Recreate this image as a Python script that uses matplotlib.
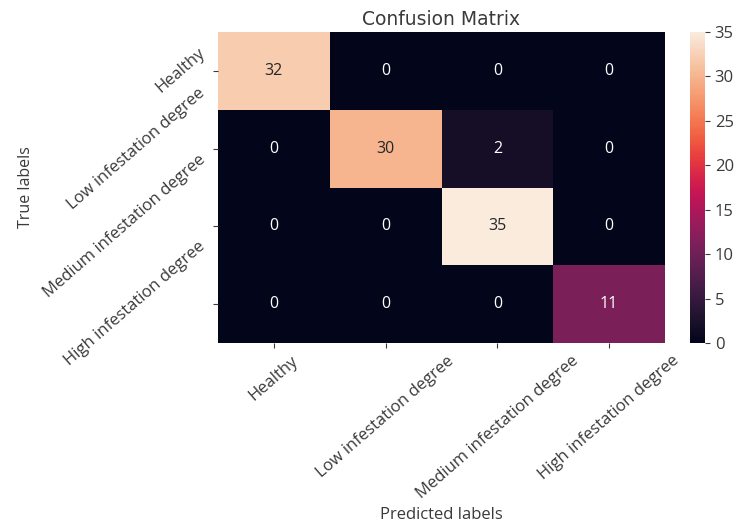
import matplotlib

matplotlib.use("Agg")
import matplotlib.pyplot as plt
import numpy as np
import seaborn as sns

classes = ["Healthy", "Low infestation degree", "Medium infestation degree", "High infestation degree"]
row_healthy = [32, 0, 0, 0]
row_low = [0, 30, 2, 0]
row_medium = [0, 0, 35, 0]
row_high = [0, 0, 0, 11]

plt.rcParams["font.family"] = ["Open Sans", "DejaVu Sans"]
text_col = "#3a3a3a"
plt.rcParams["text.color"] = text_col
plt.rcParams["axes.labelcolor"] = text_col
plt.rcParams["xtick.color"] = text_col
plt.rcParams["ytick.color"] = text_col

cm = np.array([row_healthy, row_low, row_medium, row_high])

fig = plt.figure(figsize=(7.43, 5.24), dpi=100)
ax = fig.add_axes([218 / 743, 1 - 343 / 524, (665 - 218) / 743, (343 - 32) / 524])
cax = fig.add_axes([690 / 743, 1 - 343 / 524, 15 / 743, (343 - 32) / 524])

fs = 12
sns.heatmap(cm, annot=True, fmt="d", ax=ax, cbar_ax=cax, annot_kws={"fontsize": 11.5})
cax.tick_params(labelsize=fs)
for sp in cax.spines.values():
    sp.set_visible(False)

ax.set_title("Confusion Matrix", fontsize=13.5, family="DejaVu Sans", pad=5)
ax.set_xlabel("Predicted labels", fontsize=fs)
ax.set_ylabel("True labels", fontsize=11.5)
ax.set_xticklabels(classes, rotation=41, ha="center", fontsize=fs)
ax.set_yticklabels(classes, rotation=41, va="center", fontsize=fs)

fig.savefig("out.png", dpi=100)
